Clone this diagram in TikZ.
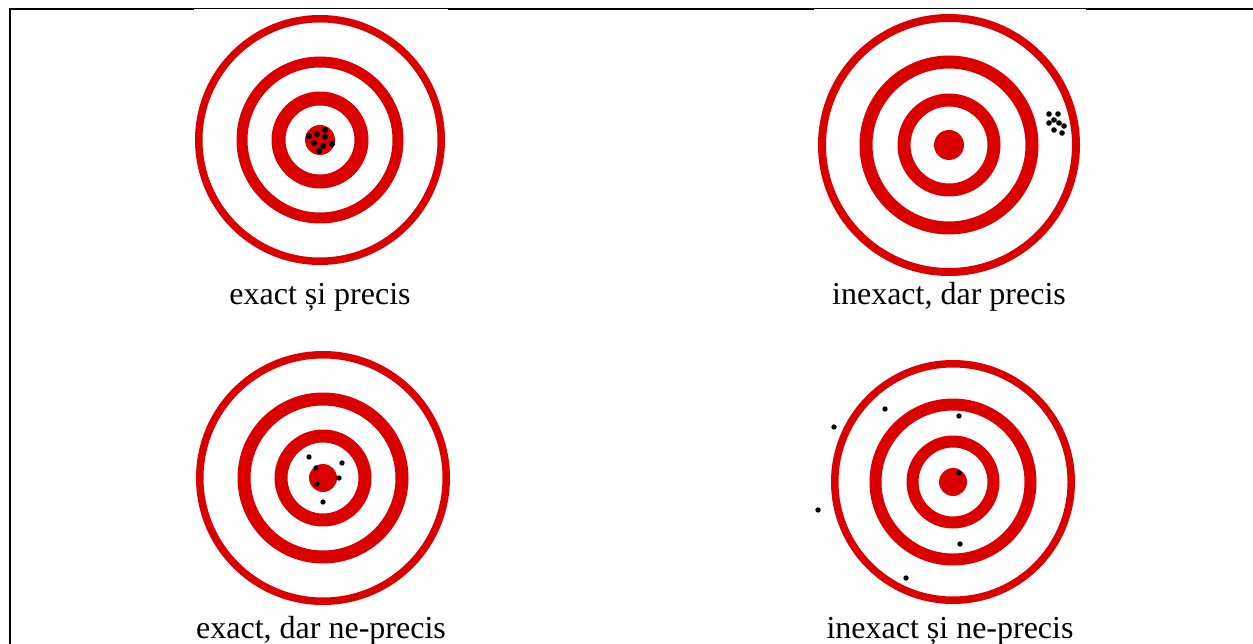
\documentclass[tikz,border=0pt]{standalone}
\usepackage{fontspec}
\setmainfont{Liberation Serif}
\definecolor{tred}{RGB}{218,0,0}

\begin{document}
\begin{tikzpicture}[
		x=1pt, y=-1pt,
		ring/.style={fill=tred, even odd rule},
		bull/.style={fill=tred},
		hit/.style={fill=black},
		frame/.style={line width=2pt, line cap=rect},
		caption/.style={anchor=base, inner sep=0pt, font=\fontsize{32}{32}\selectfont}
		]
		\useasboundingbox (0,0) rectangle (1253,644);
		
		% Table border (images overlap the top line)
		\draw[frame] (10,644) -- (10,9) -- (1253,9);
		\fill[white] (194,9.4) rectangle (448,20);
		\fill[white] (814,9.4) rectangle (1086,20);
		
		\coordinate (t1) at (320,140);
		\coordinate (t2) at (949,145);
		\coordinate (t3) at (323,478);
		\coordinate (t4) at (953,482);
		
		% Top left: exact and precise
		\fill[ring] (t1) circle (125) circle (117.5);
		\fill[ring] (t1) circle (83.5) circle (72.5);
		\fill[ring] (t1) circle (48.5) circle (34.5);
		\fill[bull] (t1) circle (15);
		\fill[hit] (309,136) circle (3) (317,134) circle (3) (325,130) circle (3) (325,137) circle (3)
			(314,143) circle (3) (323,146) circle (3) (332,144) circle (3) (319,151) circle (3);
		\node[caption] (l1) at (320,305) {exact și precis};
		
		% Top right: inexact but precise
		\fill[ring] (t2) circle (131) circle (123);
		\fill[ring] (t2) circle (89.5) circle (76.5);
		\fill[ring] (t2) circle (51.5) circle (38.5);
		\fill[bull] (t2) circle (15);
		\fill[hit] (1049,114) circle (2.8) (1058,114) circle (2.8) (1049,123) circle (2.8) (1054,120) circle (2.8)
			(1059,123) circle (2.8) (1064,126) circle (2.8) (1054,130) circle (2.8) (1062,133) circle (2.8);
		\node[caption] (l2) at (949,305) {inexact, dar precis};
		
		% Bottom left: exact but not precise
		\fill[ring] (t3) circle (127) circle (119.5);
		\fill[ring] (t3) circle (85.5) circle (72.5);
		\fill[ring] (t3) circle (48.5) circle (35.5);
		\fill[bull] (t3) circle (14);
		\fill[hit] (309,457) circle (2.7) (342,463) circle (2.7) (316,468) circle (2.7)
			(339,478) circle (2.7) (317,484) circle (2.7) (323,502) circle (2.7);
		\node[caption] (l3) at (321,638) {exact, dar ne-precis};
		
		% Bottom right: inexact and not precise
		\fill[ring] (t4) circle (122) circle (114.5);
		\fill[ring] (t4) circle (83.5) circle (71.5);
		\fill[ring] (t4) circle (46.5) circle (34.5);
		\fill[bull] (t4) circle (14);
		\fill[hit] (834,427) circle (2.7) (885,409) circle (2.7) (959,416) circle (2.7) (959,473) circle (2.7)
			(818,510) circle (2.7) (960,544) circle (2.7) (906,578) circle (2.7);
		\node[caption] (l4) at (950,638) {inexact și ne-precis};
		
	\end{tikzpicture}
\end{document}
